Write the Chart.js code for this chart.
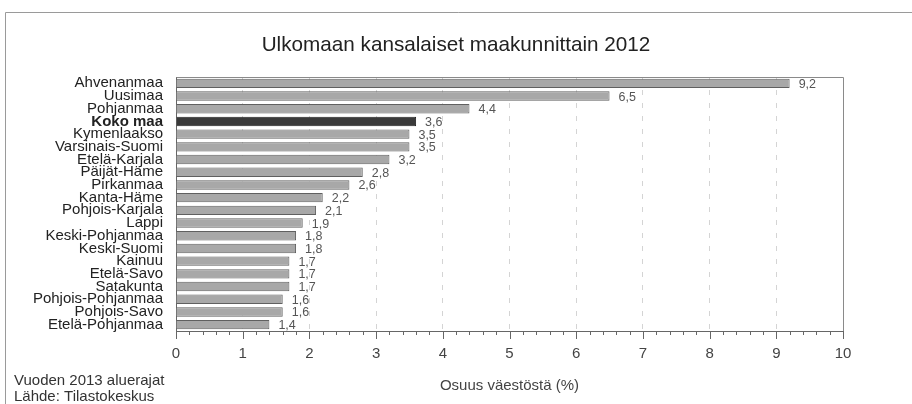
<!DOCTYPE html>
<html>
<head>
<meta charset="utf-8">
<script src="https://cdn.jsdelivr.net/npm/chart.js@4.4.0/dist/chart.umd.min.js"></script>
<style>
html,body{margin:0;padding:0;background:#fff;}
canvas{display:block;}
</style>
</head>
<body>
<canvas id="c" width="912" height="404"></canvas>
<script>
const chartTitle = "Ulkomaan kansalaiset maakunnittain 2012";
const axisTitle = "Osuus väestöstä (%)";
const footnotes = ["Vuoden 2013 aluerajat", "Lähde: Tilastokeskus"];
const regions = ["Ahvenanmaa","Uusimaa","Pohjanmaa","Koko maa","Kymenlaakso","Varsinais-Suomi","Etelä-Karjala","Päijät-Häme","Pirkanmaa","Kanta-Häme","Pohjois-Karjala","Lappi","Keski-Pohjanmaa","Keski-Suomi","Kainuu","Etelä-Savo","Satakunta","Pohjois-Pohjanmaa","Pohjois-Savo","Etelä-Pohjanmaa"];
const shares = [9.2,6.5,4.4,3.6,3.5,3.5,3.2,2.8,2.6,2.2,2.1,1.9,1.8,1.8,1.7,1.7,1.7,1.6,1.6,1.4];
const highlight = "Koko maa";
const xMin = 0, xMax = 10;

const font = "'Liberation Sans', Arial, sans-serif";

const decor = {
  id: 'decor',
  beforeDraw(chart) {
    const ctx = chart.ctx;
    ctx.save();
    ctx.fillStyle = '#fff';
    ctx.fillRect(0, 0, chart.width, chart.height);
    ctx.strokeStyle = '#9a9a9a';
    ctx.lineWidth = 1;
    ctx.beginPath();
    ctx.moveTo(5.5, 404);
    ctx.lineTo(5.5, 12.5);
    ctx.lineTo(912, 12.5);
    ctx.stroke();
    ctx.restore();
  },
  afterDatasetsDraw(chart) {
    const ctx = chart.ctx;
    const a = chart.chartArea;
    const xs = chart.scales.x;
    ctx.save();
    // plot frame top and right
    ctx.strokeStyle = '#8a8a8a';
    ctx.lineWidth = 1;
    ctx.beginPath();
    ctx.moveTo(Math.round(a.left) + 0.5, Math.round(a.top) + 0.5);
    ctx.lineTo(Math.round(a.right) + 0.5, Math.round(a.top) + 0.5);
    ctx.lineTo(Math.round(a.right) + 0.5, Math.round(a.bottom));
    ctx.stroke();
    // ticks
    ctx.strokeStyle = '#666';
    ctx.beginPath();
    for (let i = 0; i <= (xMax - xMin) * 5; i++) {
      const v = xMin + i * 0.2;
      const px = Math.round(xs.getPixelForValue(v)) + 0.5;
      const major = i % 5 === 0;
      ctx.moveTo(px, Math.round(a.bottom));
      ctx.lineTo(px, Math.round(a.bottom) + (major ? 8 : 4));
    }
    ctx.stroke();
    // data labels
    const meta = chart.getDatasetMeta(0);
    ctx.fillStyle = '#555';
    ctx.font = "12.5px " + font;
    ctx.textBaseline = 'middle';
    ctx.textAlign = 'left';
    meta.data.forEach((el, i) => {
      ctx.fillText(shares[i].toFixed(1).replace('.', ','), el.x + 9, el.y + 1);
    });
    // title
    ctx.fillStyle = '#222';
    ctx.textAlign = 'center';
    ctx.font = "20.7px " + font;
    ctx.fillText(chartTitle, 456, 45);
    // axis title
    ctx.fillStyle = '#444';
    ctx.font = "15px " + font;
    ctx.fillText(axisTitle, (a.left + a.right) / 2, 386);
    // footnotes
    ctx.textAlign = 'left';
    ctx.fillStyle = '#333';
    ctx.font = "15px " + font;
    ctx.fillText(footnotes[0], 14, 381);
    ctx.fillText(footnotes[1], 14, 397);
    ctx.restore();
  }
};

new Chart(document.getElementById('c'), {
  type: 'bar',
  data: {
    labels: regions,
    datasets: [{
      data: shares,
      backgroundColor: regions.map(r => r === highlight ? '#3a3a3a' : '#a8a8a8'),
      borderColor: regions.map(r => r === highlight ? '#222' : '#606060'),
      borderWidth: 1,
      barPercentage: 0.74,
      categoryPercentage: 1.0
    }]
  },
  options: {
    indexAxis: 'y',
    responsive: false,
    animation: false,
    layout: { padding: { top: 77, right: 69, bottom: 0, left: 0 } },
    plugins: { legend: { display: false }, title: { display: false }, tooltip: { enabled: false } },
    scales: {
      x: {
        min: xMin, max: xMax,
        ticks: { stepSize: 1, color: '#444', font: { family: font, size: 15 }, padding: 14 },
        grid: {
          drawTicks: false,
          color: ctx => (ctx.tick && (ctx.tick.value === xMin || ctx.tick.value === xMax)) ? 'rgba(0,0,0,0)' : '#d4d4d4',
          tickLength: 8
        },
        border: { color: '#666', dash: [5, 8], display: true },
        afterFit: s => { s.height = 73; }
      },
      y: {
        ticks: {
          color: '#222',
          padding: 13,
          autoSkip: false,
          font: c => ({ family: font, size: 15, weight: regions[c.index] === highlight ? 'bold' : 'normal' })
        },
        grid: { display: false, drawTicks: false },
        border: { color: '#666' },
        afterFit: s => { s.width = 176; }
      }
    }
  },
  plugins: [decor]
});
</script>
</body>
</html>
